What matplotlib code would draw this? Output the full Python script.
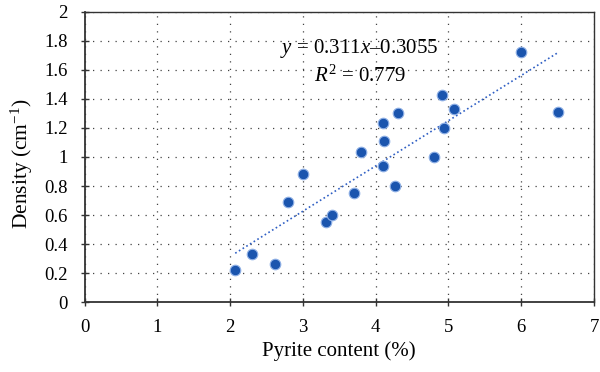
import matplotlib
matplotlib.use("Agg")
import matplotlib.pyplot as plt
import numpy as np

pyrite = [2.07, 2.30, 2.61, 2.80, 3.00, 3.32, 3.40, 3.70, 3.80, 4.10,
          4.12, 4.10, 4.30, 4.27, 4.80, 4.91, 4.94, 5.08, 6.00, 6.50]
density = [0.22, 0.33, 0.265, 0.69, 0.886, 0.555, 0.60, 0.755, 1.035, 1.235,
           1.11, 0.94, 1.30, 0.80, 1.00, 1.425, 1.20, 1.33, 1.72, 1.31]
slope, intercept = 0.311, -0.3055
x_ticks = [0, 1, 2, 3, 4, 5, 6, 7]
y_ticks = [0, 0.2, 0.4, 0.6, 0.8, 1, 1.2, 1.4, 1.6, 1.8, 2]
y_tick_labels = ["0", "0.2", "0.4", "0.6", "0.8", "1", "1.2", "1.4", "1.6", "1.8", "2"]

plt.rcParams['font.family'] = ['Liberation Serif', 'DejaVu Serif']
plt.rcParams['mathtext.fontset'] = 'custom'
plt.rcParams['mathtext.rm'] = 'Liberation Serif'
plt.rcParams['mathtext.it'] = 'Liberation Serif:italic'

fig = plt.figure(figsize=(6.0, 3.72), dpi=100)
ax = fig.add_axes([0.141, 0.187, 0.849, 0.782])

ax.set_xlim(0, 7)
ax.set_ylim(0, 2)
ax.set_xticks(x_ticks)
ax.set_yticks(y_ticks)
ax.set_yticklabels(y_tick_labels)

ax.grid(True, linestyle=(0, (1, 5)), color='#444444', linewidth=0.9)
ax.set_axisbelow(True)

xs = np.array([min(pyrite), max(pyrite)])
ax.plot(xs, slope * xs + intercept, linestyle=(0, (1, 1.6)), color='#2f5fc4', linewidth=1.2, zorder=2)

ax.scatter(pyrite, density, s=58, facecolor='#1b55ae', edgecolor='#8fb0e6', linewidth=0.8, zorder=3)

ax.text(3.78, 1.748, r"$y$ = 0.311$x$–0.3055", ha='center', va='center', fontsize=15)
ax.text(3.78, 1.553, r"$R^2$ = 0.779", ha='center', va='center', fontsize=15)

for s in ax.spines.values():
    s.set_color('#333333')
    s.set_linewidth(1.0)
ax.spines['left'].set_linewidth(1.3)
ax.spines['bottom'].set_linewidth(1.3)

ax.tick_params(axis='both', direction='inout', length=6, width=1.0, labelsize=13.5, color='#333333')
ax.tick_params(axis='x', pad=9)
ax.tick_params(axis='y', pad=9)
ax.set_xlabel("Pyrite content (%)", fontsize=15, labelpad=4)
ax.set_ylabel(r"Density (cm$^{-1}$)", fontsize=15.5, labelpad=7)
ax.yaxis.label.set_y(0.476)

fig.savefig("out.png", dpi=100)
